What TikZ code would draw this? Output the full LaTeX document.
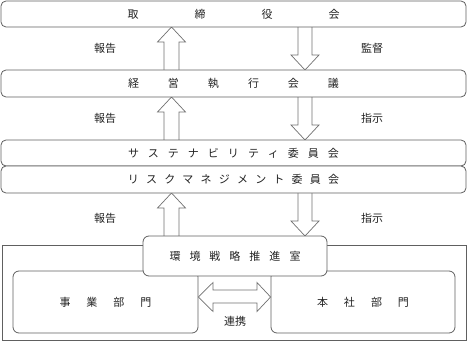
\documentclass[tikz,border=0pt]{standalone}
\usepackage{fontspec}
\newfontfamily\cjk{Noto Sans CJK JP}
\usetikzlibrary{calc}
\definecolor{ln}{HTML}{606060}
\definecolor{al}{HTML}{707070}
\definecolor{tx}{HTML}{222222}
\tikzset{
  box/.style={draw=ln, line width=0.8pt, rounded corners=5pt, fill=white, inner sep=0pt, text=tx, font=\cjk\fontsize{11}{13}\selectfont},
  lbl/.style={text=tx, inner sep=0pt, font=\cjk\fontsize{11}{13}\selectfont},
  arr/.style={draw=al, line width=0.7pt, fill=white, line join=miter},
}
\newcommand\uparr[3]{% x, ytip, ybottom
  \fill[white] ({#1-7.5},#3) -- ({#1-7.5},{#2+15}) -- ({#1-14},{#2+15}) -- (#1,#2) -- ({#1+14},{#2+15}) -- ({#1+7.5},{#2+15}) -- ({#1+7.5},#3) -- cycle;
  \draw[arr, fill=none] ({#1-7.5},#3) -- ({#1-7.5},{#2+15}) -- ({#1-14},{#2+15}) -- (#1,#2) -- ({#1+14},{#2+15}) -- ({#1+7.5},{#2+15}) -- ({#1+7.5},#3);}
\newcommand\dnarr[3]{% x, ytop, ytip
  \fill[white] ({#1-7},#2) -- ({#1-7},{#3-15}) -- ({#1-14},{#3-15}) -- (#1,#3) -- ({#1+14},{#3-15}) -- ({#1+7},{#3-15}) -- ({#1+7},#2) -- cycle;
  \draw[arr, fill=none] ({#1-7},#2) -- ({#1-7},{#3-15}) -- ({#1-14},{#3-15}) -- (#1,#3) -- ({#1+14},{#3-15}) -- ({#1+7},{#3-15}) -- ({#1+7},#2);}
\begin{document}
\begin{tikzpicture}[x=1pt,y=-1pt]
\useasboundingbox (0,0) rectangle (468,342);
% arrows between upper boxes
\uparr{171.5}{27}{70}
\dnarr{305}{27}{70}
\uparr{171.5}{97}{140}
\dnarr{305}{97}{140}
\uparr{171.5}{193}{236}
\dnarr{305}{193}{236}
% upper boxes
\node[box, minimum width=465pt, minimum height=26pt] (board) at (233.5,14) {取\hspace{56pt}締\hspace{56pt}役\hspace{56pt}会};
\node[box, minimum width=465pt, minimum height=27pt] (exec) at (233.5,83.5) {経\hspace{29pt}営\hspace{29pt}執\hspace{29pt}行\hspace{29pt}会\hspace{29pt}議};
\node[box, minimum width=465pt, minimum height=26pt] (sus) at (233.5,153) {サ\hspace{9pt}ス\hspace{9pt}テ\hspace{9pt}ナ\hspace{9pt}ビ\hspace{9pt}リ\hspace{9pt}テ\hspace{9pt}ィ\hspace{9pt}委\hspace{9pt}員\hspace{9pt}会};
\node[box, minimum width=465pt, minimum height=27pt] (risk) at (233.5,179.5) {リ\hspace{7.2pt}ス\hspace{7.2pt}ク\hspace{7.2pt}マ\hspace{7.2pt}ネ\hspace{7.2pt}ジ\hspace{7.2pt}メ\hspace{7.2pt}ン\hspace{7.2pt}ト\hspace{7.2pt}委\hspace{7.2pt}員\hspace{7.2pt}会};
% labels
\node[lbl] (r1) at (105,48) {報告};
\node[lbl] (k1) at (372,48) {監督};
\node[lbl] (r2) at (105,118) {報告};
\node[lbl] (s2) at (372,118) {指示};
\node[lbl] (r3) at (105,218) {報告};
\node[lbl] (s3) at (372,218) {指示};
% lower region
\node[draw=ln, line width=0.8pt, minimum width=464pt, minimum height=95pt, inner sep=0pt] (outer) at (234,292.5) {};
\node[box, rounded corners=6pt, minimum width=185pt, minimum height=62pt] (jigyo) at (105.5,302) {事\hspace{16pt}業\hspace{16pt}部\hspace{16pt}門};
\node[box, rounded corners=6pt, minimum width=184pt, minimum height=62pt] (honsha) at (363,302) {本\hspace{16pt}社\hspace{16pt}部\hspace{16pt}門};
\node[box, rounded corners=6pt, minimum width=184pt, minimum height=40pt] (env) at (235,256) {環\hspace{9pt}境\hspace{9pt}戦\hspace{9pt}略\hspace{9pt}推\hspace{9pt}進\hspace{9pt}室};
% double arrow
\draw[arr] (jigyo.east |- 0,297) -- (213,282.5) -- (213,290) -- (257,290) -- (257,282.5) -- (honsha.west |- 0,297) -- (257,311.5) -- (257,303) -- (213,303) -- (213,311.5) -- cycle;
\node[lbl] (renkei) at (235,321) {連携};
\end{tikzpicture}
\end{document}
